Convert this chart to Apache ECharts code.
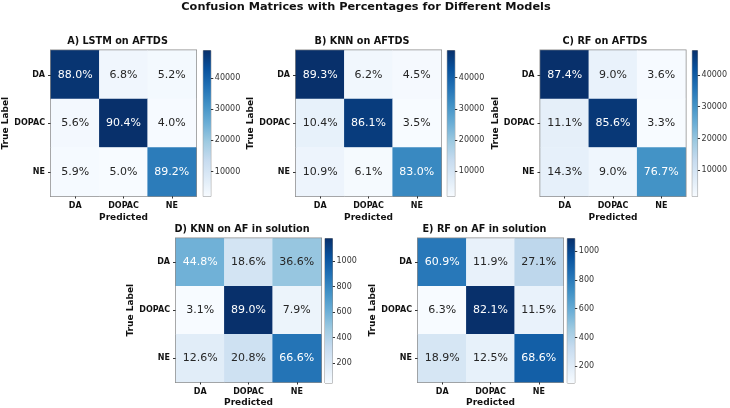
<!DOCTYPE html>
<html><head><meta charset="utf-8">
<script src="https://cdn.jsdelivr.net/npm/echarts@6/dist/echarts.min.js"></script>
<style>html,body{margin:0;padding:0;background:#fff}#c{width:730px;height:408px}</style>
</head><body><div id="c"></div>
<script>
// ---- data ----
const classes = ['DA', 'DOPAC', 'NE'];
const mainTitle = 'Confusion Matrices with Percentages for Different Models';
const panelTitles = ['A) LSTM on AFTDS', 'B) KNN on AFTDS', 'C) RF on AFTDS', 'D) KNN on AF in solution', 'E) RF on AF in solution'];
// row = true label, column = predicted (percent of row)
const lstmAftds = [[88.0, 6.8, 5.2], [5.6, 90.4, 4.0], [5.9, 5.0, 89.2]];
const knnAftds  = [[89.3, 6.2, 4.5], [10.4, 86.1, 3.5], [10.9, 6.1, 83.0]];
const rfAftds   = [[87.4, 9.0, 3.6], [11.1, 85.6, 3.3], [14.3, 9.0, 76.7]];
const knnAf     = [[44.8, 18.6, 36.6], [3.1, 89.0, 7.9], [12.6, 20.8, 66.6]];
const rfAf      = [[60.9, 11.9, 27.1], [6.3, 82.1, 11.5], [18.9, 12.5, 68.6]];
// estimated samples per true class (drive the colour scale)
const supportAftds = [54500, 54000, 39500];
const supportAf = [1330, 1325, 1325];
const blues = ['#f7fbff', '#deebf7', '#c6dbef', '#9ecae1', '#6baed6', '#4292c6', '#2171b5', '#08519c', '#08306b'];

// ---- layout ----
const FONT = 'DejaVu Sans';
const layout = [
  { g: [51, 50.5, 145, 145.5], cb: [203.3, 50.5, 7.5, 146], t: [117.5, 41], xg: 17 },
  { g: [296, 50.5, 145, 145.5], cb: [447.3, 50.5, 7.5, 146], t: [362, 41], xg: 17 },
  { g: [540.5, 50.5, 145, 145.5], cb: [692.3, 50.5, 7.5, 146], t: [605, 41], xg: 17 },
  { g: [176, 238.5, 145, 144], cb: [325, 238.5, 7.5, 144.5], t: [242, 229.5], xg: 16 },
  { g: [418, 238.5, 145, 144], cb: [567.3, 238.5, 7.5, 144.5], t: [484.5, 229.5], xg: 16 }
];
const matrices = [lstmAftds, knnAftds, rfAftds, knnAf, rfAf];
const supports = [supportAftds, supportAftds, supportAftds, supportAf, supportAf];

function build(pcts, support) {
  const counts = pcts.map((row, i) => row.map(v => v / 100 * support[i]));
  const flat = counts.flat();
  const vmin = Math.min(...flat), vmax = Math.max(...flat);
  const data = [];
  pcts.forEach((row, i) => row.forEach((p, j) => {
    const c = counts[i][j];
    data.push({ value: [j, i, c, p], label: { color: c > vmax / 2 ? '#ffffff' : '#262626' } });
  }));
  return { data, vmin, vmax };
}

const grids = [], xAxes = [], yAxes = [], series = [], visualMaps = [], graphics = [];
const models = matrices.map((m, k) => build(m, supports[k]));
const axisText = { fontFamily: FONT, fontWeight: 'bold', fontSize: 8, color: '#111' };

models.forEach((m, k) => {
  const L = layout[k];
  grids.push({ left: L.g[0], top: L.g[1], width: L.g[2], height: L.g[3], show: true, borderColor: '#8c8c8c', borderWidth: 2, containLabel: false });
  xAxes.push({
    type: 'category', gridIndex: k, data: classes, position: 'bottom',
    name: 'Predicted', nameLocation: 'middle', nameGap: L.xg,
    nameTextStyle: { fontFamily: FONT, fontWeight: 'bold', fontSize: 9, color: '#111' },
    axisLine: { show: false }, axisTick: { show: true, alignWithLabel: true, length: 2.5, lineStyle: { color: '#333' } },
    axisLabel: Object.assign({ margin: 5.5 }, axisText), splitLine: { show: false }
  });
  yAxes.push({
    type: 'category', gridIndex: k, data: classes, inverse: true,
    name: 'True Label', nameLocation: 'middle', nameGap: 32,
    nameTextStyle: { fontFamily: FONT, fontWeight: 'bold', fontSize: 9, color: '#111' },
    axisLine: { show: false }, axisTick: { show: true, alignWithLabel: true, length: 3, lineStyle: { color: '#333' } },
    axisLabel: Object.assign({ margin: 6 }, axisText), splitLine: { show: false }
  });
  series.push({
    type: 'heatmap', xAxisIndex: k, yAxisIndex: k, data: m.data,
    label: { show: true, fontFamily: FONT, fontSize: 11, formatter: p => p.data.value[3].toFixed(1) + '%' },
    emphasis: { disabled: true }
  });
  visualMaps.push({ type: 'continuous', show: false, seriesIndex: k, dimension: 2, min: m.vmin, max: m.vmax, inRange: { color: blues } });
  graphics.push({ type: 'text', x: L.t[0], y: L.t[1], style: { text: panelTitles[k], fill: '#111', font: 'bold 9.7px "DejaVu Sans"', textAlign: 'center', textVerticalAlign: 'middle' } });
});

// colour bars
models.forEach((m, k) => {
  const L = layout[k];
  const gi = 5 + k;
  grids.push({ left: L.cb[0], top: L.cb[1], width: L.cb[2], height: L.cb[3], show: true, borderColor: '#8c8c8c', borderWidth: 1 });
  xAxes.push({ type: 'category', gridIndex: gi, data: ['cb'], show: false });
  yAxes.push({
    type: 'value', gridIndex: gi, position: 'right', min: m.vmin, max: m.vmax, splitNumber: 5,
    axisLine: { show: false }, splitLine: { show: false },
    axisTick: { show: true, length: 2.5, lineStyle: { color: '#333' } },
    axisLabel: { showMinLabel: false, showMaxLabel: false, margin: 4, fontFamily: FONT, fontSize: 8, color: '#333', formatter: v => String(Math.round(v)) }
  });
  series.push({ type: 'bar', xAxisIndex: gi, yAxisIndex: gi, stack: 'cb' + k, data: [m.vmin], barWidth: '100%', silent: true, itemStyle: { color: 'rgba(0,0,0,0)' } });
  series.push({
    type: 'bar', xAxisIndex: gi, yAxisIndex: gi, stack: 'cb' + k, data: [m.vmax - m.vmin], barWidth: '100%', silent: true,
    itemStyle: { color: new echarts.graphic.LinearGradient(0, 0, 0, 1, blues.slice().reverse().map((c, i) => ({ offset: i / (blues.length - 1), color: c }))) }
  });
});

graphics.push({ type: 'text', x: 366, y: 7, style: { text: mainTitle, fill: '#111', font: 'bold 11.3px "DejaVu Sans"', textAlign: 'center', textVerticalAlign: 'middle' } });

const chart = echarts.init(document.getElementById('c'), null, { renderer: 'canvas' });
chart.setOption({
  animation: false,
  backgroundColor: '#ffffff',
  textStyle: { fontFamily: FONT },
  grid: grids, xAxis: xAxes, yAxis: yAxes, visualMap: visualMaps, series: series, graphic: graphics
});
</script></body></html>
